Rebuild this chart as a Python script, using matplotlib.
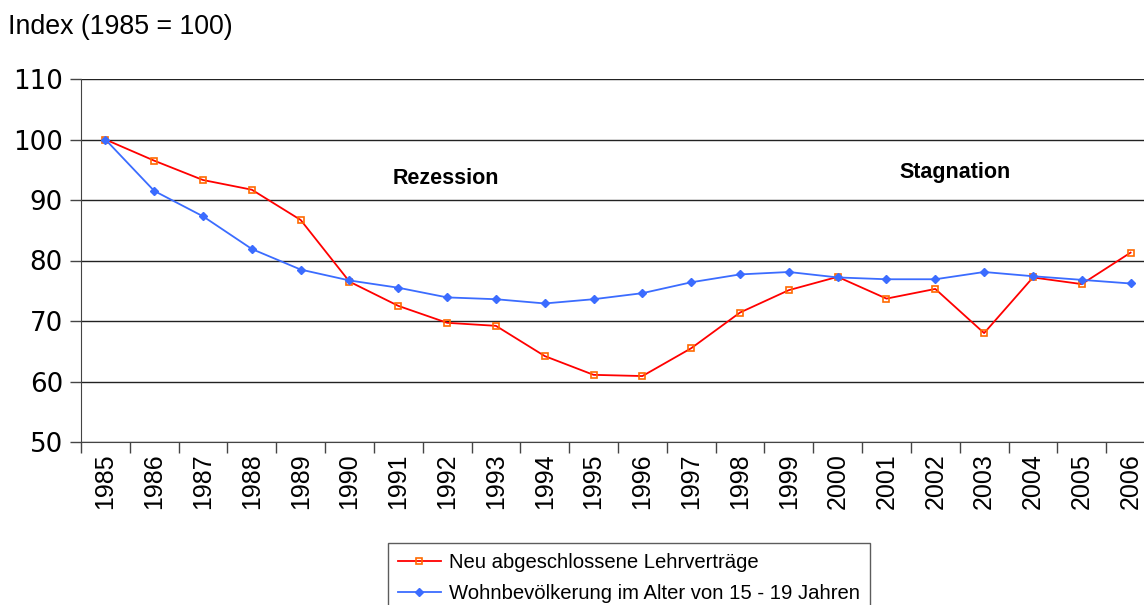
import numpy as np
import matplotlib.pyplot as plt

# -------------------------------
# Data
# -------------------------------
years = [str(y) for y in range(1985, 2007)]
lehrvertraege = [100.0, 96.5, 93.3, 91.7, 86.7, 76.5, 72.5, 69.7, 69.2, 64.2, 61.1,
                 60.9, 65.5, 71.4, 75.1, 77.3, 73.7, 75.3, 68.0, 77.2, 76.1, 81.3]
bevoelkerung = [100.0, 91.5, 87.3, 81.9, 78.5, 76.7, 75.5, 73.9, 73.6, 72.9, 73.6,
                74.6, 76.4, 77.7, 78.1, 77.2, 76.9, 76.9, 78.1, 77.4, 76.8, 76.2]
label_red = "Neu abgeschlossene Lehrverträge"
label_blue = "Wohnbevölkerung im Alter von 15 - 19 Jahren"

plt.rcParams['font.family'] = ['Liberation Sans', 'DejaVu Sans']

fig = plt.figure(figsize=(11.44, 6.05), dpi=100)
ax = fig.add_axes([0.0708, 1 - 442 / 605, 0.9388, (442 - 79) / 605])

x = np.arange(len(years))
ax.plot(x, lehrvertraege, color="#ff0000", lw=1.3, marker="s", ms=4.5,
        mfc="none", mec="#ff6a00", mew=1.2, label=label_red, zorder=3)
ax.plot(x, bevoelkerung, color="#3b6cff", lw=1.3, marker="D", ms=4.5,
        mfc="#3b6cff", mec="#3b6cff", label=label_blue, zorder=3)

# -------------------------------
# Axes
# -------------------------------
ax.set_xlim(-0.5, len(years) - 0.5)
ax.set_ylim(50, 110)
ax.set_yticks(range(50, 111, 10))
for t in ax.set_yticklabels([str(v) for v in range(50, 111, 10)]):
    t.set_family("DejaVu Sans")
    t.set_fontsize(18.8)
ax.yaxis.grid(True, color="#222222", lw=1)
ax.set_axisbelow(True)
ax.tick_params(axis="y", length=8, width=1, color="#444444", pad=5)

ax.set_xticks(x)
ax.set_xticklabels(years, rotation=90, fontsize=18)
ax.set_xticks(np.arange(-0.5, len(years), 1), minor=True)
ax.tick_params(axis="x", which="major", length=0, pad=8)
ax.tick_params(axis="x", which="minor", length=8, width=1, color="#444444")

for s in ["top", "right"]:
    ax.spines[s].set_visible(False)
ax.spines["left"].set_color("#444444")
ax.spines["bottom"].set_color("#444444")

# -------------------------------
# Text
# -------------------------------
fig.text(8 / 1144, 1 - 27 / 605, "Index (1985 = 100)", fontsize=19.3, va="center", ha="left")
ax.text(6.97, 93.6, "Rezession", fontsize=15.5, fontweight="bold", ha="center", va="center")
ax.text(17.4, 94.5, "Stagnation", fontsize=15.5, fontweight="bold", ha="center", va="center")

leg = fig.legend(loc="upper left", bbox_to_anchor=(388 / 1144, 1 - 543 / 605),
                 fontsize=14.6, frameon=True, fancybox=False, edgecolor="#333333",
                 borderpad=0.5, labelspacing=0.6, handlelength=2.1,
                 handletextpad=0.4, borderaxespad=0)
leg.get_frame().set_linewidth(1)

plt.savefig("out.png", dpi=100)
